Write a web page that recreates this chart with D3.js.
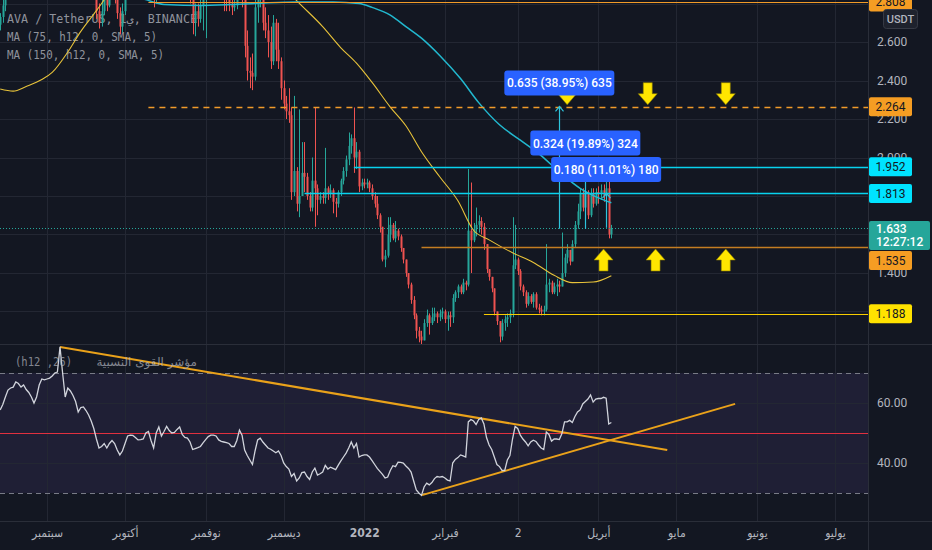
<!DOCTYPE html>
<html><head><meta charset="utf-8">
<script src="https://cdn.jsdelivr.net/npm/d3@7"></script>
<style>
html,body{margin:0;padding:0;background:#131722;overflow:hidden;}
svg{display:block}
</style></head>
<body>
<svg id="chart" width="932" height="550"></svg>
<script>
// ---------------- DATA ----------------
const firstCandleDate = "2021-08-14";
const firstOpen = 2.69;
const closes = [
2.73,2.79,2.94,3.05,3.10,3.08,3.25,3.18,3.14,3.22,
3.12,3.08,3.00,2.95,3.10,3.30,3.38,3.36,3.40,3.44,
3.52,3.58,3.62,3.95,3.60,3.25,3.40,3.35,3.28,3.20,
3.06,3.12,3.12,3.06,3.00,2.93,2.86,2.76,2.70,2.76,
2.82,2.79,2.85,2.88,2.84,2.75,2.68,2.76,2.85,2.93,
2.94,2.93,2.90,2.88,2.89,2.90,2.98,3.00,2.90,2.82,
2.95,3.02,2.95,2.99,3.05,3.02,3.00,3.01,3.03,3.05,
2.98,2.95,2.94,2.86,2.70,2.76,2.72,2.79,2.83,2.88,
2.93,2.95,2.94,2.91,2.88,2.87,2.85,2.84,2.80,2.78,
2.79,2.88,3.00,2.82,2.58,2.45,2.44,2.42,2.78,2.84,
2.86,2.70,2.66,2.60,2.50,2.70,2.56,2.50,2.36,2.28,
2.24,2.22,1.82,1.93,1.76,1.80,1.92,1.90,1.80,1.74,
1.88,1.84,1.78,1.80,1.79,1.84,1.81,1.83,1.77,1.76,
1.82,1.88,1.93,1.99,2.06,2.10,2.00,2.03,1.85,1.87,
1.86,1.87,1.84,1.80,1.76,1.70,1.64,1.47,1.49,1.60,
1.65,1.58,1.62,1.59,1.53,1.47,1.40,1.34,1.26,1.18,
1.10,1.07,1.05,1.14,1.18,1.14,1.17,1.19,1.17,1.19,
1.20,1.16,1.18,1.17,1.27,1.30,1.33,1.30,1.35,1.34,
1.62,1.57,1.63,1.65,1.67,1.64,1.55,1.42,1.38,1.32,
1.20,1.15,1.07,1.14,1.16,1.17,1.19,1.44,1.47,1.41,
1.33,1.30,1.24,1.28,1.25,1.29,1.22,1.21,1.20,1.21,
1.34,1.35,1.30,1.33,1.34,1.33,1.40,1.48,1.52,1.46,
1.55,1.65,1.72,1.81,1.74,1.82,1.70,1.81,1.76,1.82,
1.81,1.83,1.80,1.84,1.60,1.633];
const highs = [
2.75,2.82,2.98,3.10,3.15,3.18,3.30,3.30,3.25,3.28,
3.25,3.18,3.12,3.05,3.15,3.35,3.42,3.45,3.48,3.50,
3.58,3.62,3.66,4.10,4.00,3.65,3.45,3.45,3.40,3.32,
3.24,3.18,3.16,3.15,3.10,3.04,2.97,2.90,2.80,2.82,
2.86,2.86,2.90,2.92,2.90,2.86,2.78,2.80,2.88,2.96,
2.98,2.98,2.96,2.94,2.93,2.95,3.02,3.08,3.02,2.92,
2.98,3.05,3.04,3.02,3.08,3.07,3.04,3.04,3.06,3.08,
3.06,3.00,2.98,2.96,2.88,2.80,2.80,2.82,2.86,2.92,
2.96,2.98,2.99,2.97,2.94,2.92,2.90,2.88,2.86,2.84,
2.82,2.92,3.05,3.02,2.86,2.66,2.52,2.54,2.86,2.90,
2.92,2.88,2.78,2.74,2.68,2.74,2.72,2.70,2.52,2.40,
2.32,2.36,2.26,2.32,1.95,2.25,2.08,2.08,1.92,1.82,
2.00,2.26,1.86,1.82,1.82,2.05,1.85,1.86,1.84,1.79,
1.83,1.89,1.95,2.01,2.13,2.12,2.26,2.08,2.04,1.89,
1.89,1.89,1.88,1.86,1.82,1.80,1.71,1.64,1.52,1.69,
1.69,1.66,1.67,1.63,1.60,1.53,1.46,1.40,1.35,1.28,
1.19,1.12,1.10,1.16,1.21,1.19,1.22,1.22,1.20,1.21,
1.22,1.21,1.20,1.20,1.29,1.31,1.34,1.34,1.37,1.36,
1.94,1.87,1.66,1.74,1.70,1.69,1.66,1.55,1.42,1.38,
1.32,1.20,1.15,1.16,1.18,1.19,1.21,1.69,1.65,1.48,
1.42,1.34,1.31,1.30,1.29,1.30,1.30,1.24,1.23,1.23,
1.55,1.37,1.36,1.35,1.37,1.36,1.61,1.50,1.55,1.52,
1.57,1.67,1.76,1.84,1.84,1.84,1.83,1.84,1.84,1.84,
1.85,1.86,1.86,1.88,1.99,1.65];
const lows = [
2.66,2.70,2.76,2.90,2.98,3.00,3.05,3.12,3.08,3.10,
3.08,3.02,2.95,2.90,2.93,3.08,3.22,3.30,3.32,3.35,
3.40,3.46,3.50,3.58,3.50,3.15,3.20,3.28,3.20,3.15,
3.02,3.00,3.05,3.00,2.95,2.88,2.83,2.72,2.67,2.68,
2.74,2.76,2.78,2.82,2.80,2.72,2.64,2.65,2.74,2.83,
2.88,2.88,2.86,2.85,2.85,2.86,2.88,2.95,2.86,2.78,
2.80,2.92,2.92,2.93,2.96,2.98,2.96,2.97,2.98,3.00,
2.95,2.92,2.90,2.80,2.64,2.63,2.68,2.70,2.66,2.62,
2.84,2.88,2.89,2.86,2.84,2.83,2.76,2.76,2.76,2.74,
2.76,2.77,2.86,2.78,2.52,2.40,2.36,2.35,2.40,2.70,
2.78,2.66,2.62,2.52,2.46,2.48,2.50,2.46,2.30,2.25,
2.20,2.18,1.78,1.80,1.72,1.69,1.80,1.82,1.78,1.72,
1.72,1.64,1.70,1.76,1.76,1.76,1.78,1.79,1.71,1.69,
1.74,1.80,1.86,1.90,1.96,2.02,1.92,1.94,1.82,1.83,
1.84,1.84,1.82,1.78,1.74,1.68,1.61,1.46,1.43,1.48,
1.56,1.57,1.56,1.57,1.51,1.45,1.38,1.32,1.24,1.16,
1.06,1.04,1.03,1.05,1.12,1.08,1.13,1.15,1.14,1.15,
1.16,1.14,1.10,1.12,1.14,1.25,1.27,1.29,1.29,1.31,
1.33,1.40,1.56,1.59,1.61,1.60,1.52,1.40,1.36,1.30,
1.18,1.13,1.04,1.05,1.10,1.12,1.14,1.17,1.42,1.39,
1.31,1.28,1.22,1.23,1.24,1.22,1.21,1.19,1.18,1.18,
1.20,1.30,1.29,1.29,1.28,1.30,1.33,1.38,1.45,1.44,
1.46,1.53,1.63,1.68,1.72,1.71,1.68,1.69,1.74,1.75,
1.76,1.78,1.77,1.78,1.58,1.58];
const rsiValues = [
57.7,59.5,62,64.3,65,65.3,67,66.5,65.3,66,
64.5,63.5,62,60,62,66,68,67.7,68,68.3,
69,70,70.3,78.7,70,62,65,64,62.5,60.5,
57,58.5,58.7,57.5,56,54,51.5,48,45,45.5,
46.5,45,46.5,47.5,46.5,44.3,42.7,44,46.5,49,
49.3,49.2,48.5,47.7,47.8,48,50,50.5,47.5,45,
50,52,49,50.5,52.2,50.8,50,50.2,51.2,52,
49.5,48.5,48.3,47,44.5,44.8,45.1,45.5,46.7,47.8,
48.8,49.3,49.3,49,47.7,47.2,47,46.8,46.5,45.5,
45.5,47.5,51,49.3,44.3,42.5,41,39.5,44,47.7,
48.3,47,46,45,44.6,44,43.4,44,42.5,40,
38.8,38,35.5,36.5,34,35,36.8,37,35.5,34.5,
37,38.3,36,36.4,37,39.2,38,38.6,38.2,37.8,
39.3,40.7,42,43.3,45,47,45,46.5,42,42.5,
42.7,42.7,42,40.8,39.5,38.2,37.2,36.2,35,35.3,
37.5,39.1,38.8,40.3,40.2,40,39,38.2,37,34,
31,30,29.2,32,33.3,32.7,33.5,34.8,35.5,35.3,
35.5,35,34.3,34,40,41.2,41.8,42.7,42.4,42,
53.7,54.5,54,52.8,54.5,55,53,48.5,46,44.5,
42,39.5,38.8,37.5,37.5,41,42.5,48,52.2,51.5,
49.3,48,47,45.7,47,47.6,47.2,46,45,44.5,
50.3,49.5,47.3,48,48,47.8,49.8,53.7,53.7,54.2,
53.5,55.5,57,57.7,59.7,60.5,61.3,62.7,60.3,61.3,
61.5,61.5,61.9,61.6,53.0,53.5];

// moving averages (date, value)
const ma75Dates = ["2021-08-14","2021-08-19","2021-08-24","2021-08-30","2021-09-03","2021-09-09","2021-09-14","2021-09-19","2021-09-22","2021-09-26","2021-10-03","2021-10-16","2021-10-31","2021-11-15","2021-11-28","2021-12-06","2021-12-16","2021-12-23","2021-12-29","2022-01-04","2022-01-11","2022-01-17","2022-01-23","2022-01-30","2022-02-06","2022-02-12","2022-02-18","2022-02-27","2022-03-07","2022-03-15","2022-03-22","2022-03-30","2022-04-06"];
const ma75Values = [2.356,2.345,2.369,2.405,2.442,2.548,2.655,2.745,2.80,2.88,2.98,3.08,3.12,3.06,2.93,2.815,2.680,2.570,2.490,2.390,2.262,2.165,2.030,1.900,1.775,1.622,1.572,1.505,1.455,1.388,1.350,1.353,1.386];
const ma150Dates = ["2021-08-14","2021-09-21","2021-10-01","2021-10-09","2021-10-16","2021-10-31","2021-11-20","2021-12-06","2021-12-20","2021-12-30","2022-01-04","2022-01-11","2022-01-17","2022-01-23","2022-01-30","2022-02-07","2022-02-14","2022-02-22","2022-03-02","2022-03-10","2022-03-17","2022-03-25","2022-04-02","2022-04-06"];
const ma150Values = [2.95,2.90,2.86,2.82,2.795,2.79,2.80,2.808,2.808,2.80,2.78,2.74,2.68,2.62,2.53,2.41,2.285,2.17,2.09,2.01,1.925,1.84,1.785,1.765];

// axes
const monthTicks = ["2021-09-01","2021-10-01","2021-11-01","2021-12-01","2022-01-01","2022-02-01","2022-03-01","2022-04-01","2022-05-01","2022-06-01","2022-07-01"];
const monthLabels = ["سبتمبر","أكتوبر","نوفمبر","ديسمبر","2022","فبراير","2","أبريل","مايو","يونيو","يوليو"];
const priceGridTicks = [1.2,1.4,1.6,1.8,2.0,2.2,2.4,2.6,2.8];
const priceLabelTicks = [1.4,2.0,2.2,2.4,2.6];
const rsiTicks = [60,40];

// drawings
const levelPrices = [2.808,2.264,1.952,1.813,1.535,1.188];
const levelStarts = ["2021-10-10","2021-10-10","2021-12-28","2021-12-09","2022-01-23","2022-02-16"];
const currentPrice = 1.633;
const countdown = "12:27:12";
const measureDates = ["2022-03-17","2022-03-27","2022-04-04"];
const measureFrom = [1.630,1.629,1.635];
const measureTo = [2.265,1.953,1.815];
const measureText = ["0.635 (38.95%) 635","0.324 (19.89%) 324","0.180 (11.01%) 180"];
const downArrowDates = ["2022-03-20","2022-04-20","2022-05-20"];
const upArrowDates = ["2022-04-03","2022-04-23","2022-05-20"];
const rsiDownDates = ["2021-09-06","2022-04-27T12:00:00Z"];
const rsiDownValues = [78.7,44.3];
const rsiUpDates = ["2022-01-23T05:00:00Z","2022-05-23T14:00:00Z"];
const rsiUpValues = [29.3,59.7];

// ---------------- CHART ----------------
const W = 932, H = 550, AX = 868, MAIN_B = 344, RSI_T = 345, RSI_B = 521;
const svg = d3.select("#chart");
svg.append("rect").attr("width", W).attr("height", H).attr("fill", "#131722");
const defs = svg.append("defs");
defs.append("clipPath").attr("id", "clipMain").append("rect").attr("x", 0).attr("y", 0).attr("width", AX).attr("height", MAIN_B);
defs.append("clipPath").attr("id", "clipRsi").append("rect").attr("x", 0).attr("y", RSI_T).attr("width", AX).attr("height", RSI_B - RSI_T);

const x = d3.scaleUtc().domain([new Date(monthTicks[0]), new Date(monthTicks[10])]).range([47, 835]);
const yP = d3.scaleLinear().domain([2.6, 1.4]).range([42, 273]);
const yR = d3.scaleLinear().domain([70, 30]).range([373, 493]);

const DAY = 864e5;
const t0 = new Date(firstCandleDate).getTime();
const candles = closes.map((c, i) => {
  const o = i ? closes[i - 1] : firstOpen;
  return { t: new Date(t0 + i * DAY), o, c, h: Math.max(highs[i], o, c), l: Math.min(lows[i], o, c), r: rsiValues[i] };
});

const GRID = "#232733";
// RSI band
svg.append("rect").attr("x", 0).attr("y", yR(70)).attr("width", AX).attr("height", yR(30) - yR(70)).attr("fill", "rgba(126,87,194,0.12)");

// grid
const grid = svg.append("g");
grid.selectAll("line.v").data(monthTicks).join("line")
  .attr("x1", d => Math.round(x(new Date(d))) + 0.5).attr("x2", d => Math.round(x(new Date(d))) + 0.5)
  .attr("y1", 0).attr("y2", RSI_B).attr("stroke", GRID);
grid.selectAll("line.h").data(priceGridTicks).join("line").attr("class", "h")
  .attr("x1", 0).attr("x2", AX).attr("y1", d => Math.round(yP(d)) + 0.5).attr("y2", d => Math.round(yP(d)) + 0.5)
  .attr("stroke", GRID).attr("clip-path", "url(#clipMain)");
grid.selectAll("line.r").data(rsiTicks).join("line").attr("class", "r")
  .attr("x1", 0).attr("x2", AX).attr("y1", d => Math.round(yR(d)) + 0.5).attr("y2", d => Math.round(yR(d)) + 0.5)
  .attr("stroke", GRID);

// legend (drawn below the series)
const legend = svg.append("g").attr("font-family", "'DejaVu Sans Mono', monospace").attr("font-size", 12).attr("fill", "#b2b5be").attr("opacity", 0.78);
legend.append("text").attr("x", 7).attr("y", 23).attr("textLength", 190).attr("lengthAdjust", "spacingAndGlyphs").text("AVA / TetherUS, 1ي, BINANCE");
legend.append("text").attr("x", 7).attr("y", 41).attr("textLength", 150).attr("lengthAdjust", "spacingAndGlyphs").text("MA (75, h12, 0, SMA, 5)");
legend.append("text").attr("x", 7).attr("y", 59).attr("textLength", 157).attr("lengthAdjust", "spacingAndGlyphs").text("MA (150, h12, 0, SMA, 5)");

// main pane
const main = svg.append("g").attr("clip-path", "url(#clipMain)");

// candles
const UP = "#26a69a", DN = "#ef5350";
const cg = main.append("g");
cg.selectAll("line").data(candles).join("line")
  .attr("x1", d => Math.round(x(d.t)) + 0.5).attr("x2", d => Math.round(x(d.t)) + 0.5)
  .attr("y1", d => yP(d.h)).attr("y2", d => yP(d.l))
  .attr("stroke", d => d.c >= d.o ? UP : DN).attr("stroke-width", 1);
cg.selectAll("rect").data(candles).join("rect")
  .attr("x", d => Math.round(x(d.t)) + 0.5 - 1).attr("width", 2)
  .attr("y", d => yP(Math.max(d.o, d.c)))
  .attr("height", d => Math.max(1, Math.abs(yP(d.o) - yP(d.c))))
  .attr("fill", d => d.c >= d.o ? UP : DN);

// MAs
const maLine = d3.line().x(d => x(d[0])).y(d => yP(d[1])).curve(d3.curveMonotoneX);
main.append("path").datum(ma75Dates.map((d, i) => [new Date(d), ma75Values[i]]))
  .attr("d", maLine).attr("fill", "none").attr("stroke", "#e8c33a").attr("stroke-width", 1.1);
main.append("path").datum(ma150Dates.map((d, i) => [new Date(d), ma150Values[i]]))
  .attr("d", maLine).attr("fill", "none").attr("stroke", "#22b8cf").attr("stroke-width", 1.5);

// horizontal levels
const levelStyle = [
  { c: "#f09a28", w: 1.2, dash: null },
  { c: "#f29b2a", w: 1.4, dash: "6,5" },
  { c: "#08d2ee", w: 1.3, dash: null },
  { c: "#08d2ee", w: 1.3, dash: null },
  { c: "#c47d22", w: 1.7, dash: null },
  { c: "#f7cc00", w: 1.2, dash: null }
];
levelPrices.forEach((p, i) => {
  main.append("line").attr("x1", x(new Date(levelStarts[i]))).attr("x2", AX)
    .attr("y1", Math.round(yP(p)) + 0.5).attr("y2", Math.round(yP(p)) + 0.5)
    .attr("stroke", levelStyle[i].c).attr("stroke-width", levelStyle[i].w)
    .attr("stroke-dasharray", levelStyle[i].dash);
});

// current price dotted line
main.append("line").attr("x1", 0).attr("x2", AX).attr("y1", Math.round(yP(currentPrice)) + 0.5).attr("y2", Math.round(yP(currentPrice)) + 0.5)
  .attr("stroke", UP).attr("stroke-dasharray", "1,2");

// arrows
function downArrow(cx, tip) {
  return `M${cx - 4.5},${tip - 22}L${cx + 4.5},${tip - 22}L${cx + 4.5},${tip - 11}L${cx + 9.5},${tip - 11}L${cx},${tip}L${cx - 9.5},${tip - 11}L${cx - 4.5},${tip - 11}Z`;
}
function upArrow(cx, tip) {
  return `M${cx - 4.5},${tip + 22}L${cx + 4.5},${tip + 22}L${cx + 4.5},${tip + 11}L${cx + 9.5},${tip + 11}L${cx},${tip}L${cx - 9.5},${tip + 11}L${cx - 4.5},${tip + 11}Z`;
}
downArrowDates.forEach(d => main.append("path").attr("d", downArrow(x(new Date(d)), yP(levelPrices[1]) - 2))
  .attr("fill", "#ffe600").attr("stroke", "#8a7a00").attr("stroke-width", 0.6));
upArrowDates.forEach(d => main.append("path").attr("d", upArrow(x(new Date(d)), yP(levelPrices[4]) + 2))
  .attr("fill", "#ffe600").attr("stroke", "#8a7a00").attr("stroke-width", 0.6));

// measurements
measureDates.forEach((d, i) => {
  const mx = Math.round(x(new Date(d))) + 0.5;
  const y1 = yP(measureFrom[i]), y2 = yP(measureTo[i]);
  main.append("line").attr("x1", mx).attr("x2", mx).attr("y1", y1).attr("y2", y2).attr("stroke", "#2ec4dc").attr("stroke-width", 1.2);
  main.append("path").attr("d", `M${mx - 4},${y2 + 5}L${mx},${y2}L${mx + 4},${y2 + 5}`).attr("fill", "none").attr("stroke", "#2ec4dc").attr("stroke-width", 1.2);
});
measureDates.forEach((d, i) => {
  const mx = x(new Date(d));
  const y2 = yP(measureTo[i]);
  const bw = 110, bh = 25;
  main.append("rect").attr("x", mx - bw / 2).attr("y", y2 - 11 - bh).attr("width", bw).attr("height", bh).attr("rx", 3)
    .attr("fill", "#2962ff");
  main.append("text").attr("x", mx).attr("y", y2 - 11 - bh / 2 + 4.5).attr("text-anchor", "middle")
    .attr("font-family", "Roboto, sans-serif").attr("font-size", 12).attr("font-weight", 500).attr("fill", "#ffffff")
    .text(measureText[i]);
});

// RSI pane
const rsiG = svg.append("g").attr("clip-path", "url(#clipRsi)");
[70, 30].forEach(v => rsiG.append("line").attr("x1", 0).attr("x2", AX).attr("y1", Math.round(yR(v)) + 0.5).attr("y2", Math.round(yR(v)) + 0.5)
  .attr("stroke", "#787b86").attr("stroke-dasharray", "5,4"));
rsiG.append("line").attr("x1", 0).attr("x2", AX).attr("y1", Math.round(yR(50)) + 0.5).attr("y2", Math.round(yR(50)) + 0.5)
  .attr("stroke", "#e0303f").attr("stroke-width", 1);
const trend = d3.line().x(d => x(d[0])).y(d => yR(d[1]));
rsiG.append("path").datum(rsiDownDates.map((d, i) => [new Date(d), rsiDownValues[i]])).attr("d", trend)
  .attr("stroke", "#eaa21a").attr("stroke-width", 2).attr("fill", "none");
rsiG.append("path").datum(rsiUpDates.map((d, i) => [new Date(d), rsiUpValues[i]])).attr("d", trend)
  .attr("stroke", "#eaa21a").attr("stroke-width", 2).attr("fill", "none");
rsiG.append("path").datum(candles).attr("d", d3.line().x(d => x(d.t)).y(d => yR(d.r)))
  .attr("fill", "none").attr("stroke", "#d1d4dc").attr("stroke-width", 1.3);

// RSI title
const rt = svg.append("g").attr("fill", "#b2b5be").attr("opacity", 0.7).attr("font-size", 12);
rt.append("text").attr("x", 15).attr("y", 366).attr("font-family", "'DejaVu Sans Mono', monospace").attr("textLength", 57).attr("lengthAdjust", "spacingAndGlyphs").text("(h12 ,26)");
rt.append("text").attr("x", 197).attr("y", 366).attr("text-anchor", "end").attr("font-family", "'DejaVu Sans', sans-serif").text("مؤشر القوى النسبية");

// separators
svg.append("line").attr("x1", 0).attr("x2", W).attr("y1", MAIN_B + 0.5).attr("y2", MAIN_B + 0.5).attr("stroke", "#2a2e39");
svg.append("line").attr("x1", 0).attr("x2", W).attr("y1", RSI_B + 0.5).attr("y2", RSI_B + 0.5).attr("stroke", "#2a2e39");
svg.append("line").attr("x1", AX + 0.5).attr("x2", AX + 0.5).attr("y1", 0).attr("y2", H).attr("stroke", "#2a2e39");

// price axis
const pAxis = svg.append("g").attr("transform", `translate(${AX},0)`)
  .call(d3.axisRight(yP).tickValues(priceLabelTicks).tickFormat(d3.format(".3f")).tickSize(0).tickPadding(9));
pAxis.select(".domain").remove();
pAxis.selectAll("text").attr("fill", "#b2b5be").attr("font-size", 12).attr("font-family", "Roboto, sans-serif");

// rsi axis
const rAxis = svg.append("g").attr("transform", `translate(${AX},0)`)
  .call(d3.axisRight(yR).tickValues(rsiTicks).tickFormat(d3.format(".2f")).tickSize(0).tickPadding(9));
rAxis.select(".domain").remove();
rAxis.selectAll("text").attr("fill", "#b2b5be").attr("font-size", 12).attr("font-family", "Roboto, sans-serif");

// time axis
const tAxis = svg.append("g").attr("transform", `translate(0,${RSI_B})`)
  .call(d3.axisBottom(x).tickValues(monthTicks.map(d => new Date(d))).tickFormat((d, i) => monthLabels[i]).tickSize(0).tickPadding(7));
tAxis.select(".domain").remove();
tAxis.selectAll("text").attr("fill", "#b2b5be").attr("font-size", 12)
  .attr("font-family", "'DejaVu Sans Condensed', 'DejaVu Sans', sans-serif")
  .attr("font-weight", (d, i) => monthLabels[i] === "2022" ? "bold" : "normal");

// right labels
const lblColors = ["#f59d23", "#f59d23", "#00e3ff", "#00e3ff", "#f59d23", "#ffe200"];
const curTop = Math.round(yP(currentPrice)) - 7, curH = 29;
levelPrices.forEach((p, i) => {
  let cy = yP(p);
  let top = cy - 9.5;
  if (top < curTop + curH && top + 19 > curTop) top = curTop + curH + 1;
  svg.append("rect").attr("x", AX + 1).attr("y", top).attr("width", 43).attr("height", 19).attr("rx", 2).attr("fill", lblColors[i]);
  svg.append("text").attr("x", AX + 22.5).attr("y", top + 14).attr("text-anchor", "middle")
    .attr("font-family", "Roboto, sans-serif").attr("font-size", 12).attr("fill", "#131722").text(d3.format(".3f")(p));
});
svg.append("rect").attr("x", AX + 1).attr("y", curTop).attr("width", 61).attr("height", curH).attr("rx", 2).attr("fill", UP);
svg.append("text").attr("x", AX + 8).attr("y", curTop + 12).attr("font-family", "Roboto, sans-serif").attr("font-size", 12).attr("font-weight", 500).attr("fill", "#ffffff").text(d3.format(".3f")(currentPrice));
svg.append("text").attr("x", AX + 8).attr("y", curTop + 25).attr("font-family", "Roboto, sans-serif").attr("font-size", 12).attr("font-weight", 500).attr("fill", "#ffffff").text(countdown);

// currency badge
svg.append("rect").attr("x", 883.5).attr("y", 9.5).attr("width", 34).attr("height", 19).attr("rx", 3).attr("fill", "#1e222d").attr("stroke", "#363a45");
svg.append("text").attr("x", 900.5).attr("y", 23).attr("text-anchor", "middle").attr("font-family", "Roboto, sans-serif").attr("font-size", 11).attr("font-weight", 500).attr("fill", "#b2b5be").text("USDT");
</script>
</body></html>
